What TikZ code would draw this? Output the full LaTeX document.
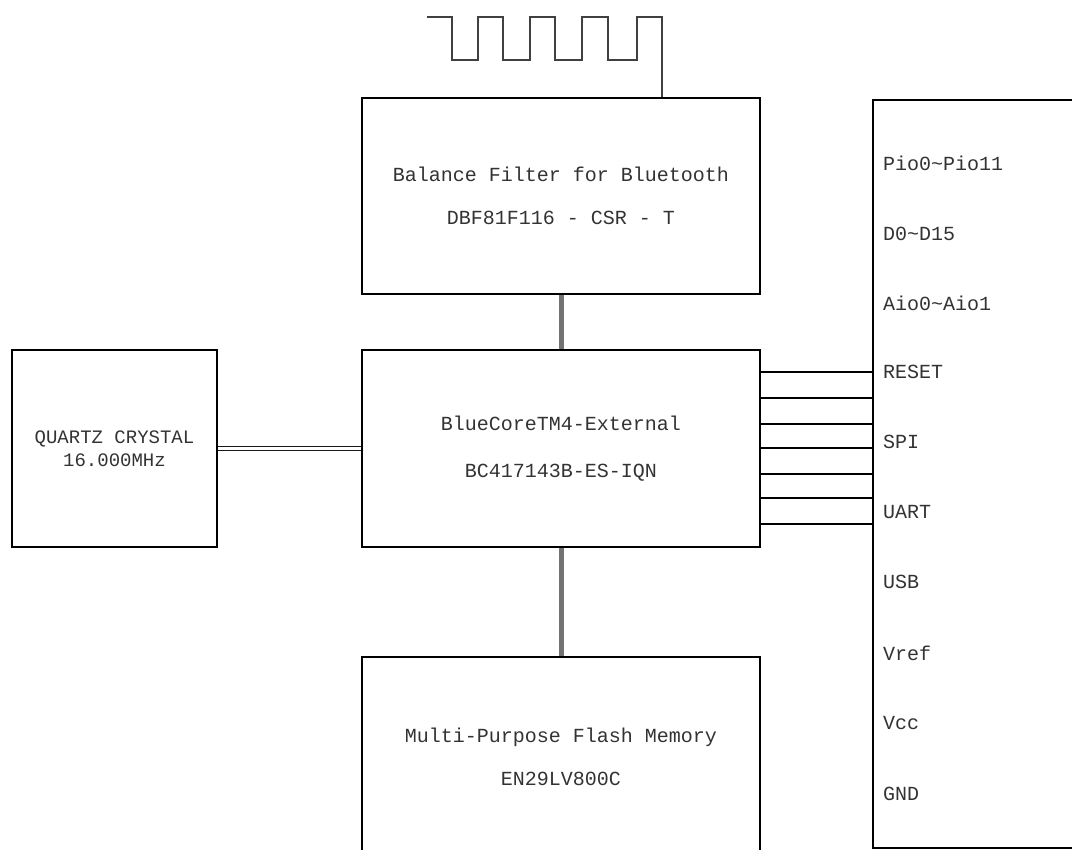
\documentclass[tikz,border=0pt]{standalone}
\usepackage{fontspec}
\setmonofont{Liberation Mono}
\begin{document}
\begin{tikzpicture}[x=1bp,y=-1bp,
  box/.style={draw=black, line width=2bp, rectangle, inner sep=0pt, text=black!80, align=center},
  lbl/.style={text=black!80, inner sep=0pt, font=\fontsize{20bp}{24bp}\selectfont\ttfamily},
  pinlbl/.style={lbl, anchor=west},
  thick bus/.style={draw=black!55, line width=5bp},
  pinwire/.style={draw=black, line width=1.5bp},
  clockwire/.style={draw=black!90, line width=1bp, double=white, double distance=3.5bp},
  antenna/.style={draw=black!75, line width=1.6bp, line join=miter}
]
\useasboundingbox (0,0) rectangle (1072,850);
\clip (0,0) rectangle (1072,850);

% boxes
\node[box, minimum width=398bp, minimum height=196bp,
      font=\fontsize{20bp}{43bp}\selectfont\ttfamily] (filt) at (561,196)
  {Balance Filter for Bluetooth\\DBF81F116 - CSR - T};
\node[box, minimum width=398bp, minimum height=197bp,
      font=\fontsize{20bp}{47bp}\selectfont\ttfamily] (core) at (561,448.5)
  {BlueCoreTM4-External\\BC417143B-ES-IQN};
\node[box, minimum width=205bp, minimum height=197bp,
      font=\fontsize{19bp}{23bp}\selectfont\ttfamily] (xtal) at (114.5,448.5)
  {QUARTZ CRYSTAL\\16.000MHz};
\node[box, minimum width=398bp, minimum height=400bp] (flash) at (561,857) {};
\node[lbl, align=center, font=\fontsize{20bp}{43bp}\selectfont\ttfamily] (flashtxt) at (561,756.5)
  {Multi-Purpose Flash Memory\\EN29LV800C};
\node[box, minimum width=327bp, minimum height=748bp] (conn) at (1036.5,474) {};

% pin labels
\node[pinlbl] (p1) at (883,163) {Pio0\textasciitilde Pio11};
\node[pinlbl] (p2) at (883,234) {D0\textasciitilde D15};
\node[pinlbl] (p3) at (883,303) {Aio0\textasciitilde Aio1};
\node[pinlbl] (p4) at (883,372) {RESET};
\node[pinlbl] (p5) at (883,442) {SPI};
\node[pinlbl] (p6) at (883,512) {UART};
\node[pinlbl] (p7) at (883,582) {USB};
\node[pinlbl] (p8) at (883,653) {Vref};
\node[pinlbl] (p9) at (883,723) {Vcc};
\node[pinlbl] (p10) at (883,794) {GND};

% connectors
\draw[thick bus] (filt.south) -- (core.north);
\draw[thick bus] (core.south) -- (flash.north);
\draw[clockwire] (xtal.east) -- (core.west);
\foreach \yy in {372,398,424,448,474,498,524}{
  \draw[pinwire] (core.east |- 0,\yy) -- (conn.west |- 0,\yy);
}

% antenna
\coordinate (ant) at (427,17);
\draw[antenna] (ant) -- (452,17) -- (452,60) -- (478,60) -- (478,17)
  -- (503,17) -- (503,60) -- (530,60) -- (530,17)
  -- (555,17) -- (555,60) -- (582,60) -- (582,17)
  -- (608,17) -- (608,60) -- (637,60) -- (637,17)
  -- (662,17) -- (filt.north -| 662,0);
\end{tikzpicture}
\end{document}
